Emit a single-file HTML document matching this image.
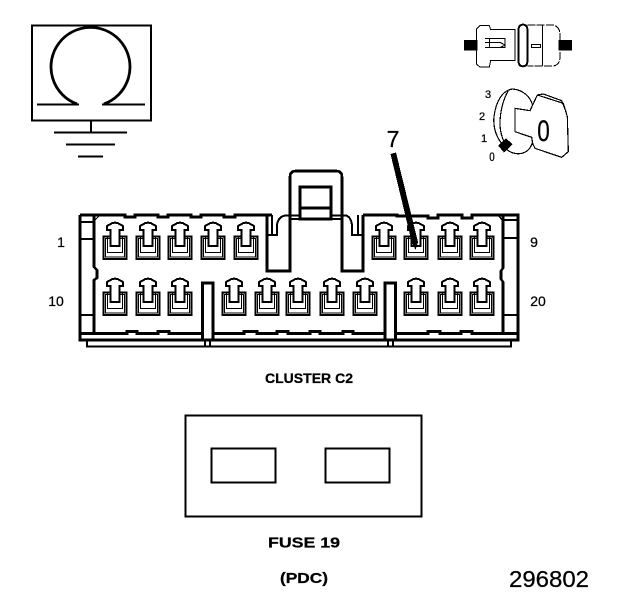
<!DOCTYPE html>
<html><head><meta charset="utf-8"><style>
html,body{margin:0;padding:0;background:#fff;width:624px;height:600px;overflow:hidden}
svg{display:block}
text{font-family:"Liberation Sans",sans-serif;fill:#000;stroke:#000;stroke-width:.25}
</style></head><body>
<svg width="624" height="600" viewBox="0 0 624 600" shape-rendering="crispEdges">
<defs>
<g id="L" fill="none" stroke="#000">
<rect x="-11.5" y="14.5" width="23" height="22.5" stroke-width="2"/>
<rect x="-9.5" y="16.5" width="19" height="18.5" stroke-width="1"/>
<path d="M-7.5,15V30.5H7.5V15" stroke-width="1.4"/>
<path d="M-4.5,24V8H-8V4L-3,1.2L0,.6L3,1.2L8,4V8H4.5V24Z" fill="#fff" stroke-width="2"/>
</g>
</defs>

<!-- omega -->
<rect x="32" y="25.5" width="119" height="95" fill="none" stroke="#000" stroke-width="2.4"/>
<path d="M77,104A39.5,39.5 0 1 1 104,104" fill="none" stroke="#000" stroke-width="2.8" shape-rendering="auto"/>
<path d="M37,104.5H79M102,104.5H145M91,121V132M54,132.5H127M66,144.5H115M78,156.5H103" stroke="#000" stroke-width="2" fill="none"/>

<!-- plug -->
<g transform="translate(450,15) scale(.33333)" fill="none" stroke="#000" stroke-width="3">
<rect x="42" y="75" width="40" height="31" fill="#000" stroke="none"/>
<rect x="325" y="75" width="41" height="31" fill="#000" stroke="none"/>
<path d="M90,32H118L122,44H195V137H122L118,156H90L80,148V42Z"/>
<path d="M105,70H165V84H165V98H105M105,82H150L165,90L150,98M118,70V98"/>
<rect x="206" y="29" width="26" height="125" rx="12" stroke-width="6"/>
<path d="M232,30H310Q330,35 330,60V125Q330,150 310,153H232" stroke-dasharray="24 4"/>
<path d="M278,30V153"/>
<rect x="245" y="89" width="27" height="8"/>
</g>
<!-- key -->
<g transform="translate(480,80) scale(.33333)" fill="none" stroke="#000" stroke-width="3.6">
<path d="M98,27C70,30 48,60 42,110C38,150 55,185 85,212C110,228 148,225 158,185"/>
<path d="M98,27C130,30 150,50 158,75"/>
<path d="M85,32C68,60 60,100 60,130C60,155 65,170 72,185"/>
<path d="M158,75L150,92L105,85V155L155,172L158,190"/>
<path d="M158,75L172,45L250,70L262,110L265,215L245,232L165,205L158,190"/>
<path d="M172,45L190,42L245,62L258,95"/>
<path d="M57,197L78,177L95,193L72,215Z" fill="#000"/>
</g>
<g text-anchor="middle" font-size="11">
<text x="488" y="98">3</text>
<text x="482" y="120">2</text>
<text x="484" y="142">1</text>
<text x="492" y="161" font-size="11.5" transform="translate(492,0) scale(.85,1) translate(-492,0)">0</text>
</g>
<text x="0" y="0" font-size="30" text-anchor="middle" transform="translate(543.5,141) scale(.75,1)">0</text>

<!-- connector body -->
<g fill="none" stroke="#000" stroke-width="2.6">
<path d="M80,215H125V217H135V215H158V217H168V215H191V217H201V215H224V217H235V215H272"/>
<path d="M267,215V271H290V177Q290,171 296,171H336Q342,171 342,177V271H363V215"/>
<path d="M363,215H397V216H428V218H438V215H462V218H472V215H518V340H80V215"/>
<path d="M94,215V267L97,270V278L94,280V334M503,215V268L501,271V279L503,282V334"/>
<path d="M80,333.5H127V331.5H137V333.5H158V331.5H169V333.5H202M213,333.5H244V331.5H257V333.5H277V331.5H288V333.5H310V331.5H320V333.5H343V331.5H353V333.5H385M396,333.5H428V331.5H440V333.5H461V331.5H472V333.5H518"/>
<path d="M87,340V346.5H511V340" stroke-width="2"/>
<path d="M80,222H94M80,239H94M80,315H94M503,220H518M503,238H518M503,315H518" stroke-width="2"/>
<path d="M272,215V235M267,235H277V225Q278,217 285,215.5H300M331,215.5H346Q351,217 352,225V235H363M358,215V235" stroke-width="2"/>
<path d="M300,187H331V219H300ZM300,208H331" stroke-width="3"/>
<path d="M290,219H342" stroke-width="2"/>
<path d="M94,221L100,215M503,221L498,215" stroke-width="1.4"/>
<rect x="202.5" y="283" width="10.5" height="57" fill="#fff"/>
<rect x="385" y="283" width="10.5" height="57" fill="#fff"/>
<path d="M205,340V347M210,340V347M388,340V347M393,340V347" stroke-width="1.6"/>
</g>

<g>
<use href="#L" x="115" y="222"/><use href="#L" x="148" y="222"/><use href="#L" x="180" y="222"/><use href="#L" x="213" y="222"/><use href="#L" x="246" y="222"/>
<use href="#L" x="384" y="222"/><use href="#L" x="416" y="222"/><use href="#L" x="450" y="222"/><use href="#L" x="482" y="222"/>
<use href="#L" x="115" y="278"/><use href="#L" x="148" y="278"/><use href="#L" x="180" y="278"/>
<use href="#L" x="234" y="278"/><use href="#L" x="267" y="278"/><use href="#L" x="298" y="278"/><use href="#L" x="332" y="278"/><use href="#L" x="365" y="278"/>
<use href="#L" x="416" y="278"/><use href="#L" x="450" y="278"/><use href="#L" x="482" y="278"/>
</g>

<!-- callout -->
<path d="M390.5,154L396,152.5L417,238L418,242L415.5,250L411.5,241Z" fill="#000"/>
<text x="393" y="147" font-size="23" text-anchor="middle">7</text>

<g font-size="14">
<text x="61" y="247" text-anchor="middle">1</text>
<text x="534" y="247" text-anchor="middle">9</text>
<text x="56" y="306" text-anchor="middle">10</text>
<text x="538" y="306" text-anchor="middle">20</text>
</g>
<text x="309" y="383" font-size="13.5" font-weight="bold" text-anchor="middle" textLength="88" lengthAdjust="spacingAndGlyphs">CLUSTER C2</text>

<!-- fuse -->
<g fill="none" stroke="#000" stroke-width="2.4">
<rect x="185.5" y="415.5" width="236" height="101"/>
<rect x="211.5" y="448.5" width="64" height="34"/>
<rect x="325.5" y="448.5" width="64" height="34"/>
</g>
<text x="304" y="547.5" font-size="15" font-weight="bold" text-anchor="middle" textLength="72" lengthAdjust="spacingAndGlyphs">FUSE 19</text>
<text x="304" y="583" font-size="15" font-weight="bold" text-anchor="middle" textLength="48" lengthAdjust="spacingAndGlyphs">(PDC)</text>
<text x="549" y="587" font-size="23" text-anchor="middle" textLength="80" lengthAdjust="spacingAndGlyphs">296802</text>
</svg>
</body></html>
